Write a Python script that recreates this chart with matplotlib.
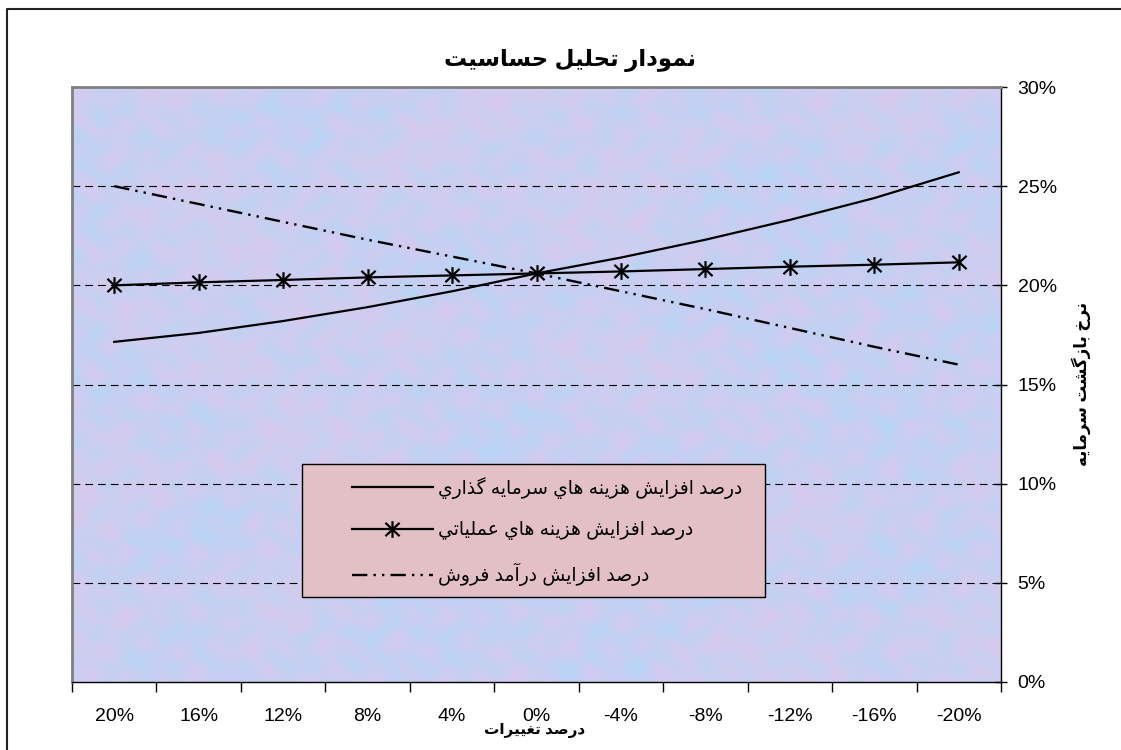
import matplotlib
matplotlib.use('Agg')
import matplotlib.pyplot as plt
import numpy as np
from matplotlib.path import Path
from matplotlib.patches import Rectangle
from matplotlib.lines import Line2D

# --- data (values in %) ---
categories = ['20%', '16%', '12%', '8%', '4%', '0%', '-4%', '-8%', '-12%', '-16%', '-20%']
investment = [17.15, 17.6, 18.2, 18.9, 19.7, 20.6, 21.4, 22.3, 23.3, 24.4, 25.7]
operating = [20.0, 20.15, 20.27, 20.4, 20.5, 20.6, 20.7, 20.82, 20.94, 21.04, 21.16]
sales = [25.0, 24.1, 23.2, 22.3, 21.45, 20.6, 19.7, 18.8, 17.85, 16.9, 16.0]
y_ticks = [0, 5, 10, 15, 20, 25, 30]

title = 'نمودار تحليل حساسيت'
x_title = 'درصد تغييرات'
y_title = 'نرخ بازگشت سرمايه'
series_names = ['درصد افزايش هزينه هاي سرمايه گذاري',
                'درصد افزايش هزينه هاي عملياتي',
                'درصد افزايش درآمد فروش']

# --- minimal Arabic/Persian shaping (matplotlib has no text shaping) ---
FORMS = {
    'ا': ('\uFE8D', '\uFE8E'), 'آ': ('\uFE81', '\uFE82'),
    'د': ('\uFEA9', '\uFEAA'), 'ذ': ('\uFEAB', '\uFEAC'),
    'ر': ('\uFEAD', '\uFEAE'), 'ز': ('\uFEAF', '\uFEB0'),
    'و': ('\uFEED', '\uFEEE'),
    'ب': ('\uFE8F', '\uFE90', '\uFE91', '\uFE92'),
    'ت': ('\uFE95', '\uFE96', '\uFE97', '\uFE98'),
    'ح': ('\uFEA1', '\uFEA2', '\uFEA3', '\uFEA4'),
    'س': ('\uFEB1', '\uFEB2', '\uFEB3', '\uFEB4'),
    'ش': ('\uFEB5', '\uFEB6', '\uFEB7', '\uFEB8'),
    'ص': ('\uFEB9', '\uFEBA', '\uFEBB', '\uFEBC'),
    'ع': ('\uFEC9', '\uFECA', '\uFECB', '\uFECC'),
    'غ': ('\uFECD', '\uFECE', '\uFECF', '\uFED0'),
    'ف': ('\uFED1', '\uFED2', '\uFED3', '\uFED4'),
    'ل': ('\uFEDD', '\uFEDE', '\uFEDF', '\uFEE0'),
    'م': ('\uFEE1', '\uFEE2', '\uFEE3', '\uFEE4'),
    'ن': ('\uFEE5', '\uFEE6', '\uFEE7', '\uFEE8'),
    'ه': ('\uFEE9', '\uFEEA', '\uFEEB', '\uFEEC'),
    'ي': ('\uFEF1', '\uFEF2', '\uFEF3', '\uFEF4'),
    'گ': ('\uFB92', '\uFB93', '\uFB94', '\uFB95'),
}


def shape(s):
    out = []
    for i, c in enumerate(s):
        if c not in FORMS:
            out.append(c)
            continue
        prev = s[i - 1] if i > 0 else ''
        nxt = s[i + 1] if i + 1 < len(s) else ''
        jp = prev in FORMS and len(FORMS[prev]) == 4
        jn = len(FORMS[c]) == 4 and nxt in FORMS
        f = FORMS[c]
        if jp and jn:
            out.append(f[3])
        elif jp:
            out.append(f[1])
        elif jn:
            out.append(f[2])
        else:
            out.append(f[0])
    return ''.join(reversed(out))


plt.rcParams['font.family'] = ['Liberation Sans', 'DejaVu Sans']

W, H = 1121, 750
fig = plt.figure(figsize=(W / 100, H / 100), dpi=100)
ax = fig.add_axes([72 / W, 1 - 682 / H, (1001 - 72) / W, (682 - 87) / H])

# mottled background of the plot area (deterministic pattern, no data)
yy, xx = np.mgrid[0:200, 0:310].astype(float)
t = (np.sin(xx * 0.53 + 1.7 * np.sin(yy * 0.31))
     + np.sin(yy * 0.61 + 1.3 * np.cos(xx * 0.29))
     + 0.8 * np.sin((xx + yy) * 0.19 + 2.0 * np.sin(xx * 0.07))
     + 0.7 * np.cos((xx - yy) * 0.23 + 1.5 * np.sin(yy * 0.09)))
t = (t - t.min()) / (t.max() - t.min())
p = 0.5 + 0.5 * np.sin(xx * 0.05 + 2.5 * np.sin(yy * 0.04)) * np.cos(yy * 0.06 + 1.2 * np.cos(xx * 0.03))
blue = np.array([180, 214, 246]) / 255
lav = np.array([212, 202, 240]) / 255
pink = np.array([226, 200, 232]) / 255
tex = blue[None, None, :] * (1 - t[..., None]) + lav[None, None, :] * t[..., None]
tex = tex * (1 - 0.35 * p[..., None]) + pink[None, None, :] * 0.35 * p[..., None]
ax.imshow(tex, extent=[0, 1, 0, 1], transform=ax.transAxes, aspect='auto',
          interpolation='bicubic', zorder=0)

x = np.arange(len(categories))

for v in y_ticks[1:-1]:
    ax.axhline(v, color='black', lw=0.8, linestyle=(0, (7, 4.5)), zorder=1)

star = Path([(0, -1), (0, 1), (-0.85, -0.8), (0.85, 0.8), (-0.85, 0.8), (0.85, -0.8)],
            [Path.MOVETO, Path.LINETO, Path.MOVETO, Path.LINETO, Path.MOVETO, Path.LINETO])

l1, = ax.plot(x, investment, color='black', lw=1.6, zorder=3)
l2, = ax.plot(x, operating, color='black', lw=1.6, marker=star, markersize=12,
              markeredgewidth=1.6, markerfacecolor='none', markeredgecolor='black', zorder=3)
l3, = ax.plot(x, sales, color='black', lw=1.7, linestyle=(0, (6.5, 2.6, 1, 2.6, 1, 2.6)), zorder=3)

ax.set_xlim(-0.5, len(categories) - 0.5)
ax.set_ylim(0, 30)

ax.yaxis.tick_right()
ax.set_yticks(y_ticks)
ax.set_yticklabels(['%d%%' % v for v in y_ticks])
ax.tick_params(axis='y', direction='inout', length=8, width=1, labelsize=14, pad=8)

ax.set_xticks(np.arange(len(categories) + 1) - 0.5)
ax.set_xticklabels([])
ax.set_xticks(x, minor=True)
ax.set_xticklabels(categories, minor=True)
ax.tick_params(axis='x', which='major', direction='out', length=7, width=1)
ax.tick_params(axis='x', which='minor', length=0, labelsize=14, pad=19)

for side in ['left', 'top']:
    ax.spines[side].set_color('#808080')
    ax.spines[side].set_linewidth(2)
for side in ['right', 'bottom']:
    ax.spines[side].set_color('black')
    ax.spines[side].set_linewidth(1)

fig.text(570 / W, 1 - 60 / H, shape(title), ha='center', va='center',
         fontsize=16.5, fontweight='bold')
fig.text(535 / W, 1 - 731 / H, shape(x_title), ha='center', va='center',
         fontsize=11, fontweight='bold')
fig.text(1081 / W, 1 - 384 / H, shape(y_title), ha='center', va='center',
         fontsize=12, fontweight='bold', rotation=90)

# legend box
ax.add_patch(Rectangle((302 / W, 1 - 597 / H), (765 - 302) / W, (597 - 464) / H,
                       transform=fig.transFigure, facecolor='#E3C0C5', edgecolor='black',
                       lw=1, zorder=4, clip_on=False))
leg = ax.legend([l1, l2, l3], [shape(n) for n in series_names],
                loc='upper left', bbox_to_anchor=(352 / W, 1 - 477 / H),
                bbox_transform=fig.transFigure, frameon=False, fontsize=13.5,
                handlelength=4.3, handletextpad=0.3, labelspacing=1.2,
                borderpad=0, borderaxespad=0, numpoints=1)
leg.set_zorder(5)

# outer chart frame (left and top edges)
fig.add_artist(Line2D([7 / W, 7 / W, 1], [0, 1 - 9 / H, 1 - 9 / H],
                      transform=fig.transFigure, color='#222222', lw=1.5))

fig.savefig('out.png', dpi=100)
